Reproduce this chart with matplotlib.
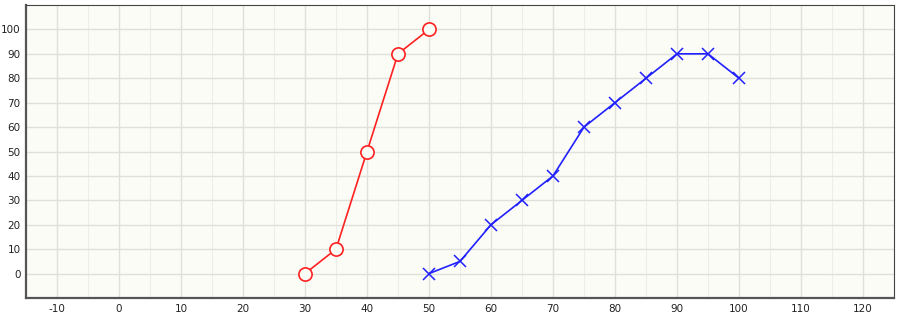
import matplotlib
matplotlib.use("Agg")
import matplotlib.pyplot as plt
from matplotlib.ticker import MultipleLocator

red_x = [30, 35, 40, 45, 50]
red_y = [0, 10, 50, 90, 100]
blue_x = [50, 55, 60, 65, 70, 75, 80, 85, 90, 95, 100]
blue_y = [0, 5, 20, 30, 40, 60, 70, 80, 90, 90, 80]

plt.rcParams['font.family'] = ['DejaVu Sans']
plt.rcParams['axes.unicode_minus'] = False
fig = plt.figure(figsize=(9, 3.15), dpi=100)
ax = fig.add_axes([26 / 900, 17 / 315, 868 / 900, 293 / 315])
ax.set_facecolor('#fcfcf7')

ax.plot(red_x, red_y, color='#ff2020', lw=1.2, marker='o', ms=9.5,
        mfc='#fcfcf7', mec='#ff2020', mew=1.2, zorder=3)
ax.plot(blue_x, blue_y, color='#2020ff', lw=1.2, marker='x', ms=8,
        mew=1.1, zorder=3)

ax.set_xlim(-15, 125)
ax.set_ylim(-10, 110)
ax.xaxis.set_major_locator(MultipleLocator(10))
ax.xaxis.set_minor_locator(MultipleLocator(5))
ax.set_yticks(range(0, 101, 10))
ax.grid(which='major', color='#e0e0da', lw=1.0)
ax.grid(which='minor', axis='x', color='#eeeee9', lw=0.8)
ax.set_axisbelow(True)
ax.tick_params(which='both', length=0, labelsize=7.5, pad=4, colors='#222222')

for side in ['left', 'bottom']:
    ax.spines[side].set_color('#555555')
    ax.spines[side].set_linewidth(1.6)
for side in ['top', 'right']:
    ax.spines[side].set_color('#444444')
    ax.spines[side].set_linewidth(0.8)

fig.savefig('out.png', dpi=100)
